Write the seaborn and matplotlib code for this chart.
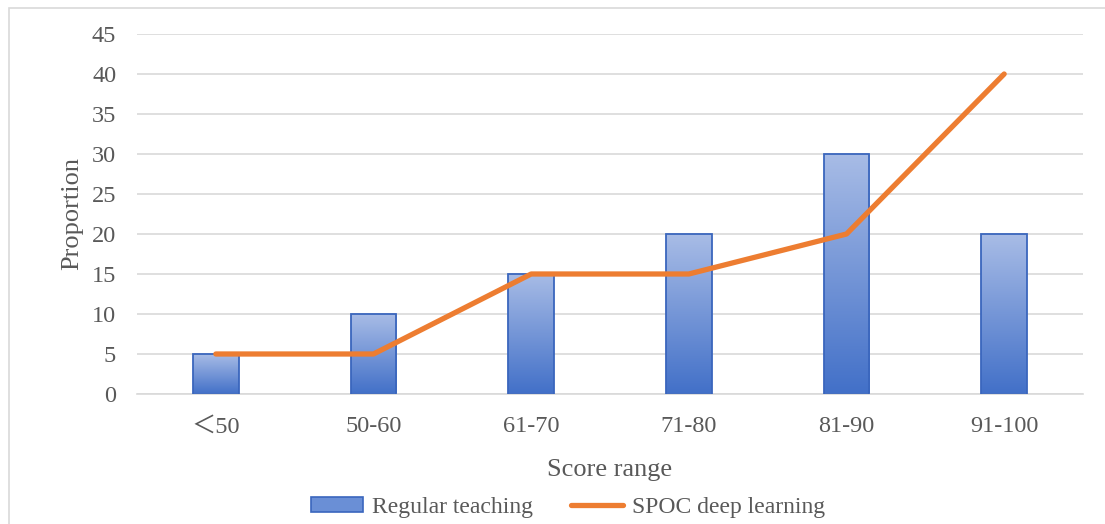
import numpy as np
import pandas as pd
import matplotlib
matplotlib.use("Agg")
import matplotlib.pyplot as plt
import seaborn as sns
from matplotlib.colors import LinearSegmentedColormap
from matplotlib.patches import Rectangle

categories = ["＜50", "50-60", "61-70", "71-80", "81-90", "91-100"]
regular_teaching = [5, 10, 15, 20, 30, 20]
spoc_deep_learning = [5, 5, 15, 15, 20, 40]

sns.set_style("white")
plt.rcParams['font.family'] = ['Liberation Serif', 'Noto Sans CJK SC', 'DejaVu Sans']

df = pd.DataFrame({"range": categories, "regular": regular_teaching, "spoc": spoc_deep_learning})

fig = plt.figure(figsize=(11.05, 5.24), dpi=100)
ax = fig.add_axes([137 / 1105, 1 - 394 / 524, 946 / 1105, 360 / 524])

text_col = "#595959"
grid_col = "#d9d9d9"

sns.barplot(data=df, x="range", y="regular", ax=ax, width=0.29,
            color="#4472c4", edgecolor="#3a66bd", linewidth=1.3, zorder=3,
            label="Regular teaching")

# gradient fill for bars (light on top, darker at the base)
cmap = LinearSegmentedColormap.from_list("bar", ["#a8bce6", "#4270c8"])
grad = np.linspace(0, 1, 256).reshape(-1, 1)
for p in ax.patches:
    x0, y0 = p.get_x(), p.get_y()
    w, h = p.get_width(), p.get_height()
    p.set_facecolor("none")
    im = ax.imshow(grad, cmap=cmap, extent=[x0, x0 + w, y0, y0 + h],
                   aspect="auto", zorder=2.5, origin="upper")
    im.set_clip_path(p)

sns.lineplot(data=df, x="range", y="spoc", ax=ax, color="#ed7d31",
             linewidth=3.8, zorder=4, solid_capstyle="round",
             label="SPOC deep learning", sort=False)

ax.set_xlim(-0.5, len(categories) - 0.5)
ax.set_ylim(0, 45)
ax.set_yticks(range(0, 50, 5))
ax.yaxis.grid(True, color=grid_col, linewidth=1.2, zorder=0)
ax.set_axisbelow(True)
for s in ["top", "right", "left"]:
    ax.spines[s].set_visible(False)
ax.spines["bottom"].set_color(grid_col)
ax.spines["bottom"].set_linewidth(1.2)
ax.tick_params(axis="both", length=0, labelsize=17.5, colors=text_col)
ax.tick_params(axis="y", pad=15)
ax.tick_params(axis="x", pad=16)

ax.set_xlabel("Score range", fontsize=19, color=text_col, labelpad=16)
ax.set_ylabel("Proportion", fontsize=19, color=text_col, labelpad=6)

handles, labels = ax.get_legend_handles_labels()
bar_handle = Rectangle((0, 0), 1, 1, facecolor="#6a8fd6", edgecolor="#3a66bd", linewidth=1.2)
line_handle = [h for h, l in zip(handles, labels) if l == "SPOC deep learning"][0]
ax.legend([bar_handle, line_handle], ["Regular teaching", "SPOC deep learning"],
          loc="center", bbox_to_anchor=(568 / 1105, 1 - 507 / 524),
          bbox_transform=fig.transFigure, ncol=2, frameon=False,
          fontsize=17, labelcolor=text_col, handlelength=2.2, handleheight=0.6,
          columnspacing=1.6, handletextpad=0.4, borderpad=0)

# outer chart border
fig.add_artist(Rectangle((9 / 1105, -0.05), 1.2, 1 - 8 / 524 + 0.05, transform=fig.transFigure,
                         fill=False, edgecolor=grid_col, linewidth=1.2))

fig.savefig("out.png", dpi=100)
